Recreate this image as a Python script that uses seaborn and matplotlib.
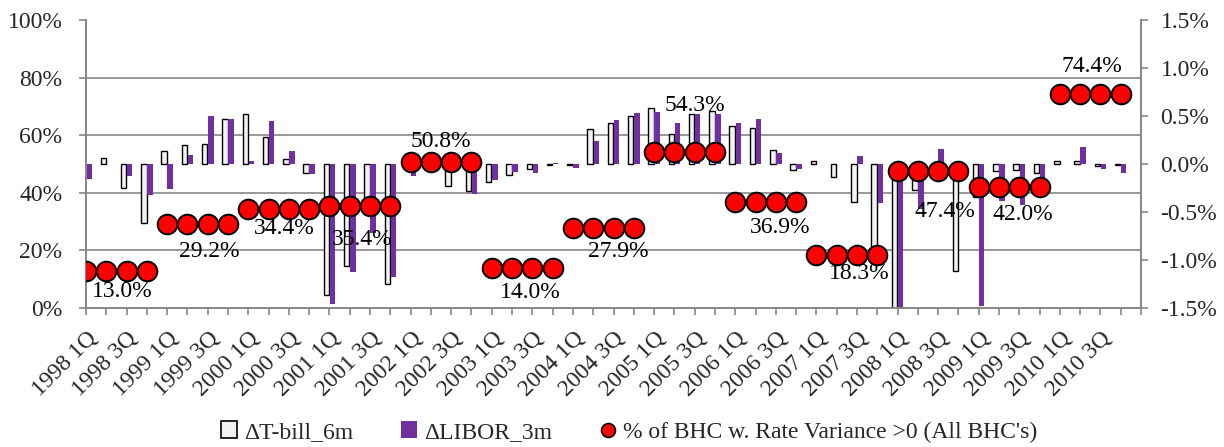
import numpy as np
import pandas as pd
import matplotlib
matplotlib.use("Agg")
import matplotlib.pyplot as plt
from matplotlib.ticker import FixedLocator, FuncFormatter
from matplotlib.patches import Patch
from matplotlib.lines import Line2D
import seaborn as sns

# ---------------- data ----------------
years = list(range(1998, 2011))
quarter_names = ["1Q", "2Q", "3Q", "4Q"]
quarters = [f"{y} {q}" for y in years for q in quarter_names]

tbill_6m = [0.0, 0.066, -0.253, -0.61, 0.132, 0.194, 0.205, 0.465, 0.524, 0.281,
            0.056, -0.094, -1.368, -1.06, -0.51, -1.25, 0.0, 0.02, -0.23, -0.285,
            -0.19, -0.118, -0.056, -0.01, -0.015, 0.36, 0.43, 0.50, 0.587, 0.31,
            0.524, 0.55, 0.40, 0.38, 0.15, -0.06, 0.028, -0.135, -0.40, -0.95,
            -1.6, -0.27, -0.05, -1.11, -0.34, -0.076, -0.066, -0.09, 0.028, 0.028,
            -0.024, -0.01]
libor_3m = [-0.153, 0.005, -0.128, -0.326, -0.264, 0.097, 0.50, 0.472, 0.028, 0.448,
            0.139, -0.108, -1.46, -1.13, -0.72, -1.18, -0.12, -0.03, -0.05, -0.31,
            -0.17, -0.083, -0.09, 0.015, -0.04, 0.24, 0.46, 0.535, 0.54, 0.427,
            0.524, 0.517, 0.427, 0.465, 0.118, -0.05, -0.005, 0.0, 0.087, -0.41,
            -1.55, -0.47, 0.153, -0.12, -1.48, -0.39, -0.43, -0.34, 0.005, 0.177,
            -0.049, -0.094]
bhc_share_by_year = [13.0, 29.2, 34.4, 35.4, 50.8, 14.0, 27.9, 54.3, 36.9, 18.3, 47.4, 42.0, 74.4]

series_names = ["\u0394T-bill_6m", "\u0394LIBOR_3m"]
dot_label = "% of BHC w. Rate Variance >0 (All BHC's)"

# label placement (pixel offsets from the labelled point) - style only
label_dx = [-4, 2, -5, -8, -10, -2, 5, 0, 4, 2, 7, 4, -9]
label_dy = [-21, -28, -20, -33, 20, -25, -24, 46, -26, -18, -40, -27, 27]

# ---------------- style ----------------
sns.set_theme(style="white")
plt.rcParams["font.family"] = ["Liberation Serif", "DejaVu Serif"]
FS = 17
GRAY = "#868686"
PURPLE = "#7030A0"
WHITE = "#F2F2F2"
RED = "#FF0000"

n = len(quarters)
df = pd.DataFrame({
    "quarter": quarters * 2,
    "series": [series_names[0]] * n + [series_names[1]] * n,
    "value": tbill_6m + libor_3m,
})
share = np.repeat(bhc_share_by_year, 4)

fig, ax_bars = plt.subplots(figsize=(12.24, 4.47), dpi=100)
fig.subplots_adjust(left=86 / 1224, right=1141 / 1224, top=1 - 20 / 447, bottom=1 - 308 / 447)
ax_dots = ax_bars.twinx()

sns.barplot(data=df, x="quarter", y="value", hue="series", order=quarters,
            hue_order=series_names, palette=[WHITE, PURPLE], width=0.6, gap=0.1,
            ax=ax_bars, legend=False, saturation=1)
for p in ax_bars.containers[0]:
    p.set_edgecolor("black")
    p.set_linewidth(1.0)
for p in ax_bars.containers[1]:
    p.set_edgecolor("none")

sns.scatterplot(x=np.arange(n), y=share, ax=ax_dots, s=200, color=RED,
                edgecolor="black", linewidth=1.4, zorder=5, legend=False)

# --- bar axis (right scale) ---
ax_bars.set_ylim(-1.5, 1.5)
ax_bars.set_xlim(0, n)
ax_bars.yaxis.set_major_locator(FixedLocator(np.arange(-1.5, 1.51, 0.5)))
ax_bars.yaxis.set_major_formatter(FuncFormatter(lambda v, p: f"{v:.1f}%"))
ax_bars.yaxis.set_minor_locator(FixedLocator(np.linspace(-1.5, 1.5, 6)))
ax_bars.grid(True, which="minor", axis="y", color=GRAY, linewidth=1.2)
ax_bars.grid(False, which="major")
ax_bars.set_axisbelow(True)
ax_bars.tick_params(axis="y", which="minor", left=False, right=False, length=0)
ax_bars.tick_params(axis="y", which="major", left=False, right=True, labelleft=False,
                    labelright=True, length=5, width=1.2, color=GRAY, labelsize=FS, pad=9)
ax_bars.set_xticks(np.arange(0, n, 2))
ax_bars.set_xticklabels(quarters[::2], rotation=45, ha="right", rotation_mode="anchor",
                        fontsize=FS)
ax_bars.set_xticks(np.arange(0, n + 1), minor=True)
ax_bars.tick_params(axis="x", which="both", bottom=True, length=5, width=1.2, color=GRAY)
ax_bars.tick_params(axis="x", which="major", pad=9)
ax_bars.set_xlabel("")
ax_bars.set_ylabel("")

# --- dot axis (left scale) ---
ax_dots.set_zorder(ax_bars.get_zorder() + 1)
ax_dots.patch.set_visible(False)
ax_dots.set_ylim(0, 100)
ax_dots.yaxis.set_major_locator(FixedLocator(np.arange(0, 101, 20)))
ax_dots.yaxis.set_major_formatter(FuncFormatter(lambda v, p: f"{v:.0f}%"))
ax_dots.tick_params(axis="y", left=True, right=False, labelleft=True, labelright=False,
                    length=5, width=1.2, color=GRAY, labelsize=FS, pad=12)
ax_dots.set_ylabel("")
ax_dots.grid(False)

for k, v in enumerate(bhc_share_by_year):
    i = 4 * k + 2
    ax_dots.annotate(f"{v:.1f}%", xy=(i, share[i]), xytext=(label_dx[k], label_dy[k]),
                     textcoords="offset pixels", ha="center", va="center",
                     fontsize=FS, color="black", zorder=6)

for ax in (ax_bars, ax_dots):
    for s in ("left", "right", "bottom"):
        ax.spines[s].set_visible(True)
        ax.spines[s].set_color(GRAY)
        ax.spines[s].set_linewidth(1.2)
    ax.spines["top"].set_visible(False)

handles = [
    Patch(facecolor=WHITE, edgecolor="black", linewidth=1.2, label=series_names[0]),
    Patch(facecolor=PURPLE, edgecolor="none", label=series_names[1]),
    Line2D([], [], marker="o", linestyle="none", markerfacecolor=RED,
           markeredgecolor="black", markeredgewidth=1.2, markersize=10, label=dot_label),
]
fig.legend(handles=handles, loc="center", bbox_to_anchor=(629 / 1224, 15 / 447), ncol=3,
           frameon=False, fontsize=FS, handlelength=0.7, handleheight=0.7,
           handletextpad=0.3, columnspacing=2.0)

fig.savefig("out.png", dpi=100)
